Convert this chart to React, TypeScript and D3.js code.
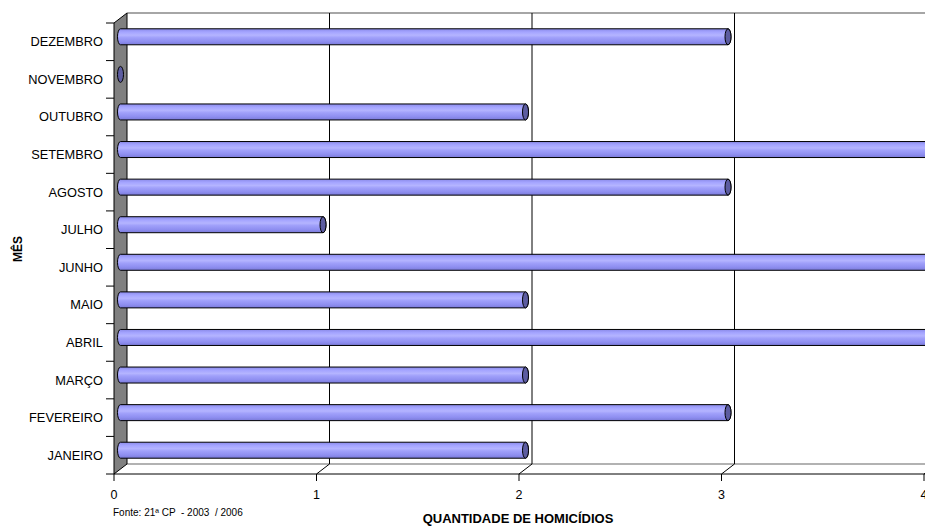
import React from "react";
import * as d3 from "d3";

const months = ["JANEIRO", "FEVEREIRO", "MARÇO", "ABRIL", "MAIO", "JUNHO", "JULHO", "AGOSTO", "SETEMBRO", "OUTUBRO", "NOVEMBRO", "DEZEMBRO"];
const values = [2, 3, 2, 4, 2, 4, 1, 3, 4, 2, 0, 3];
const xTicks = [0, 1, 2, 3, 4];

const W = 925, H = 527;
const DX = 13, DY = -10;
const x = d3.scaleLinear().domain([0, 4]).range([114, 924]);
const y = d3.scaleBand<string>().domain([...months].reverse()).range([23, 474]).padding(0);
const top = 23, bottom = 474;
const BAR_H = 16;

export default function App() {
  const mdx = DX / 2, mdy = DY / 2;
  return (
    <svg width={W} height={H} style={{ position: "absolute", left: 0, top: 0, background: "#fff" }} fontFamily="'Liberation Sans', Arial, sans-serif">
      <defs>
        <linearGradient id="cyl" x1="0" y1="0" x2="0" y2="1">
          <stop offset="0" stopColor="#8a8ae8" />
          <stop offset="0.2" stopColor="#a4a4ff" />
          <stop offset="0.4" stopColor="#b4b4ff" />
          <stop offset="0.55" stopColor="#a0a0fa" />
          <stop offset="0.8" stopColor="#8e8ef0" />
          <stop offset="1" stopColor="#7a7ad8" />
        </linearGradient>
        <clipPath id="clip"><rect x={0} y={0} width={W} height={H} /></clipPath>
      </defs>
      {/* back wall */}
      <rect x={x(0) + DX} y={top + DY} width={W} height={bottom - top} fill="#fff" />
      <line x1={x(0) + DX} x2={W} y1={top + DY} y2={top + DY} stroke="#888" strokeWidth={1.5} />
      {/* floor */}
      <line x1={x(0) + DX} x2={W} y1={bottom + DY} y2={bottom + DY} stroke="#999" strokeWidth={1.5} />
      {/* gridlines */}
      {xTicks.filter(t => t > 0).map(t => (
        <g key={"g" + t}>
          <line x1={x(t) + DX} x2={x(t) + DX} y1={top + DY} y2={bottom + DY} stroke="#000" strokeWidth={1} />
          <line x1={x(t) + DX} x2={x(t)} y1={bottom + DY} y2={bottom} stroke="#000" strokeWidth={1} />
        </g>
      ))}
      {/* side wall */}
      <polygon points={`${x(0)},${top} ${x(0) + DX},${top + DY} ${x(0) + DX},${bottom + DY} ${x(0)},${bottom}`} fill="#808080" stroke="#000" strokeWidth={1} />
      {/* bars */}
      <g clipPath="url(#clip)">
        {months.map((m, i) => {
          const cy = (y(m) as number) + y.bandwidth() / 2 + mdy;
          const x0 = x(0) + mdx;
          const x1 = x(values[i]) + mdx;
          const ry = BAR_H / 2, rx = 3;
          if (values[i] === 0) {
            return <ellipse key={m} cx={x0} cy={cy} rx={rx} ry={ry} fill="#5c5ca0" stroke="#000" strokeWidth={1} />;
          }
          const d = `M${x0},${cy - ry} L${x1},${cy - ry} A${rx},${ry} 0 0 1 ${x1},${cy + ry} L${x0},${cy + ry} A${rx},${ry} 0 0 1 ${x0},${cy - ry} Z`;
          return (
            <g key={m}>
              <path d={d} fill="url(#cyl)" stroke="#000" strokeWidth={1} />
              <ellipse cx={x1} cy={cy} rx={rx} ry={ry} fill="#5c5ca0" stroke="#000" strokeWidth={1} />
            </g>
          );
        })}
      </g>
      {/* front axis */}
      <line x1={x(0)} x2={W} y1={bottom} y2={bottom} stroke="#000" strokeWidth={1} />
      {xTicks.map(t => (
        <g key={"t" + t}>
          <line x1={x(t)} x2={x(t)} y1={bottom} y2={bottom + 7} stroke="#000" />
          <text x={x(t)} y={bottom + 25} textAnchor="middle" fontSize={12.5} fill="#000">{t}</text>
        </g>
      ))}
      {/* category ticks */}
      {[...y.domain().map(m => y(m) as number), bottom].map((v, i) => (
        <line key={"c" + i} x1={x(0) - 8} x2={x(0)} y1={v} y2={v} stroke="#000" />
      ))}
      {months.map(m => (
        <text key={"l" + m} x={103} y={(y(m) as number) + y.bandwidth() / 2} dy="0.35em" textAnchor="end" fontSize={12.8} fill="#000">{m}</text>
      ))}
      <text transform={`translate(22,249) rotate(-90)`} textAnchor="middle" fontSize={12} fontWeight="bold">MÊS</text>
      <text x={518} y={523} textAnchor="middle" fontSize={13} fontWeight="bold">QUANTIDADE DE HOMICÍDIOS</text>
      <text x={113} y={516} fontSize={10} style={{ whiteSpace: "pre" }}>Fonte: 21ª CP  - 2003  / 2006</text>
    </svg>
  );
}
